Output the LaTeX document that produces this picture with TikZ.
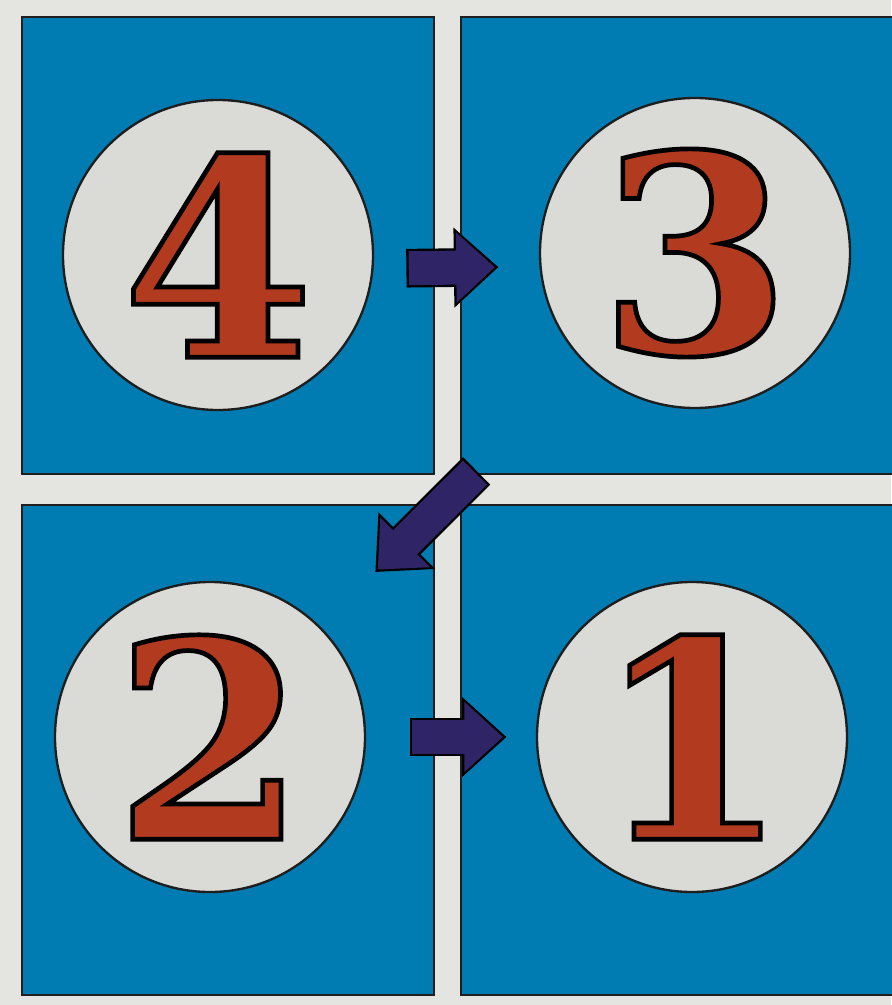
\documentclass[tikz,border=0pt]{standalone}
\usepackage{fontspec}
\usepackage{xcolor}
\usepackage{tikz}
\usetikzlibrary{arrows.meta, calc}
\newfontfamily\numfam{DejaVu Serif}
\definecolor{cBack}{RGB}{228,228,224}
\definecolor{cBlue}{RGB}{0,124,178}
\definecolor{cDisc}{RGB}{218,218,214}
\definecolor{cDigit}{RGB}{178,58,30}
\definecolor{cArrow}{RGB}{46,36,102}
\definecolor{cLine}{RGB}{30,30,30}
\newcommand{\digitfont}{\numfam\fontsize{235}{235}\selectfont\bfseries}
% filled digit with a black stroke round it
\newcommand{\rimmed}[1]{\special{pdf:literal direct 2 Tr 4 w 0 0 0 RG}#1\special{pdf:literal direct 0 Tr}}

\begin{document}
\begin{tikzpicture}[x=0.03cm, y=-0.03cm,
                    pad/.style={fill=cBlue, draw=cLine, line width=2.5pt},
                    disc/.style={circle, fill=cDisc, draw=cLine, line width=2pt,
                                 minimum size=9.3cm, inner sep=0pt, text=cDigit, font=\digitfont},
                    flowrim/.style={draw=black, line width=33pt, -{Triangle[length=38pt, width=66pt]}},
                    flowcore/.style={draw=cArrow, line width=29pt, -{Triangle[length=33pt, width=58pt]}}]

    % Background and page size
    \fill[cBack] (0,0) rectangle (891,1005);
    \useasboundingbox (0,0) rectangle (891,1005);

    % Panels
    \draw[pad] (22,17)  rectangle (434,474);
    \draw[pad] (461,17) rectangle (893,474);
    \draw[pad] (22,505) rectangle (434,995);
    \draw[pad] (461,505) rectangle (893,995);

    % Numbered discs
    \node[disc] (c4) at (218,255) {\rimmed{4}};
    \node[disc] (c3) at (695,253) {\rimmed{3}};
    \node[disc] (c2) at (210,737) {\rimmed{2}};
    \node[disc] (c1) at (692,737) {\rimmed{1}};

    % Arrows (rim first, then core)
    \foreach \from/\to/\s/\e in {c4.-5/c3.185/28/35, c3/c2/130/66, c2/c1/37/25} {
        \pgfmathsetmacro{\ss}{\s+2}
        \pgfmathsetmacro{\ee}{\e+3}
        \draw[flowrim, shorten <=\s pt, shorten >=\e pt] (\from) -- (\to);
        \draw[flowcore, shorten <=\ss pt, shorten >=\ee pt] (\from) -- (\to);
    }

\end{tikzpicture}
\end{document}
